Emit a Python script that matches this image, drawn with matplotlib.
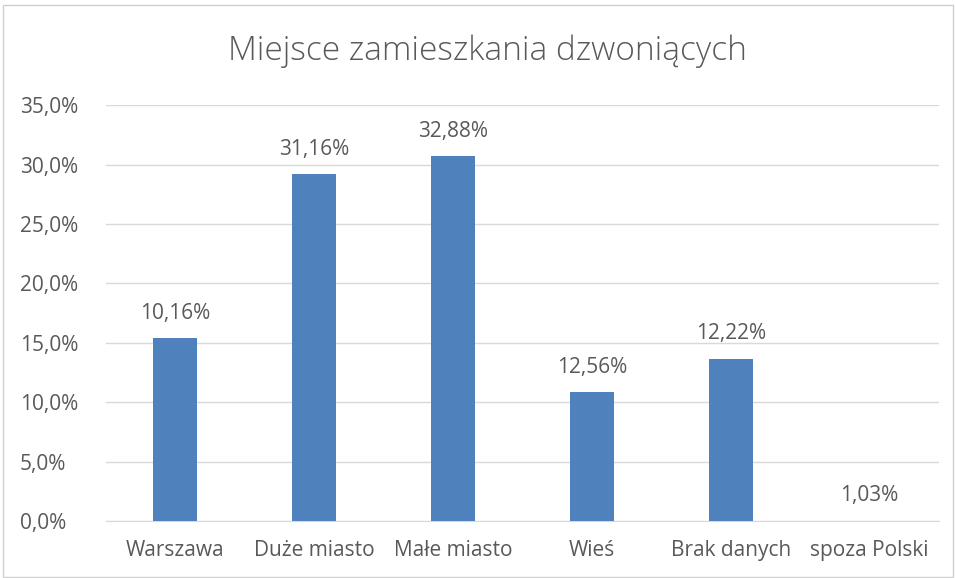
import matplotlib.pyplot as plt
from matplotlib.patches import Rectangle

# dane
kategorie = ["Warszawa", "Duże miasto", "Małe miasto", "Wieś", "Brak danych", "spoza Polski"]
wysokosci = [15.38, 29.18, 30.70, 10.83, 13.64, 0.0]   # wysokosci slupkow (tak jak na wykresie)
etykiety = ["10,16%", "31,16%", "32,88%", "12,56%", "12,22%", "1,03%"]
ticki_y = [0, 5, 10, 15, 20, 25, 30, 35]

plt.rcParams['font.family'] = ['Open Sans', 'DejaVu Sans']
szary = "#595959"
rozmiar = 15

fig = plt.figure(figsize=(9.55, 5.78), dpi=100)
W, H = 955, 578
ax = fig.add_axes([106 / W, 1 - 521 / H, (939 - 106) / W, (521 - 105.3) / H])

x = range(len(kategorie))
slupki = ax.bar(x, wysokosci, width=0.317, color="#4F81BD", zorder=3)

for xi, h, lab in zip(x, wysokosci, etykiety):
    ax.annotate(lab, (xi, h), xytext=(0, 25), textcoords="offset pixels",
                ha="center", va="center", fontsize=rozmiar, color=szary)

ax.set_xlim(-0.5, len(kategorie) - 0.5)
ax.set_ylim(0, 35)
ax.set_yticks(ticki_y)
ax.set_yticklabels([f"{v:.1f}%".replace(".", ",") for v in ticki_y])
ax.set_xticks(list(x))
ax.set_xticklabels(kategorie)
ax.tick_params(axis="both", length=0, labelsize=rozmiar, labelcolor=szary)
ax.tick_params(axis="x", pad=14)
ax.tick_params(axis="y", pad=62)
for lab in ax.get_yticklabels():
    lab.set_horizontalalignment("left")
ax.yaxis.grid(True, color="#D9D9D9", linewidth=1, zorder=0)
for s in ["top", "right", "left"]:
    ax.spines[s].set_visible(False)
ax.spines["bottom"].set_color("#D9D9D9")

fig.text(487 / W, 1 - 51 / H, "Miejsce zamieszkania dzwoniących", ha="center", va="center",
         fontsize=24, color=szary, fontweight="light")

fig.patches.append(Rectangle((3 / W, 0.002), 950 / W, 1 - 5 / H - 0.002, transform=fig.transFigure,
                             fill=False, edgecolor="#D0D0D0", linewidth=1))

fig.savefig("out.png", dpi=100)
